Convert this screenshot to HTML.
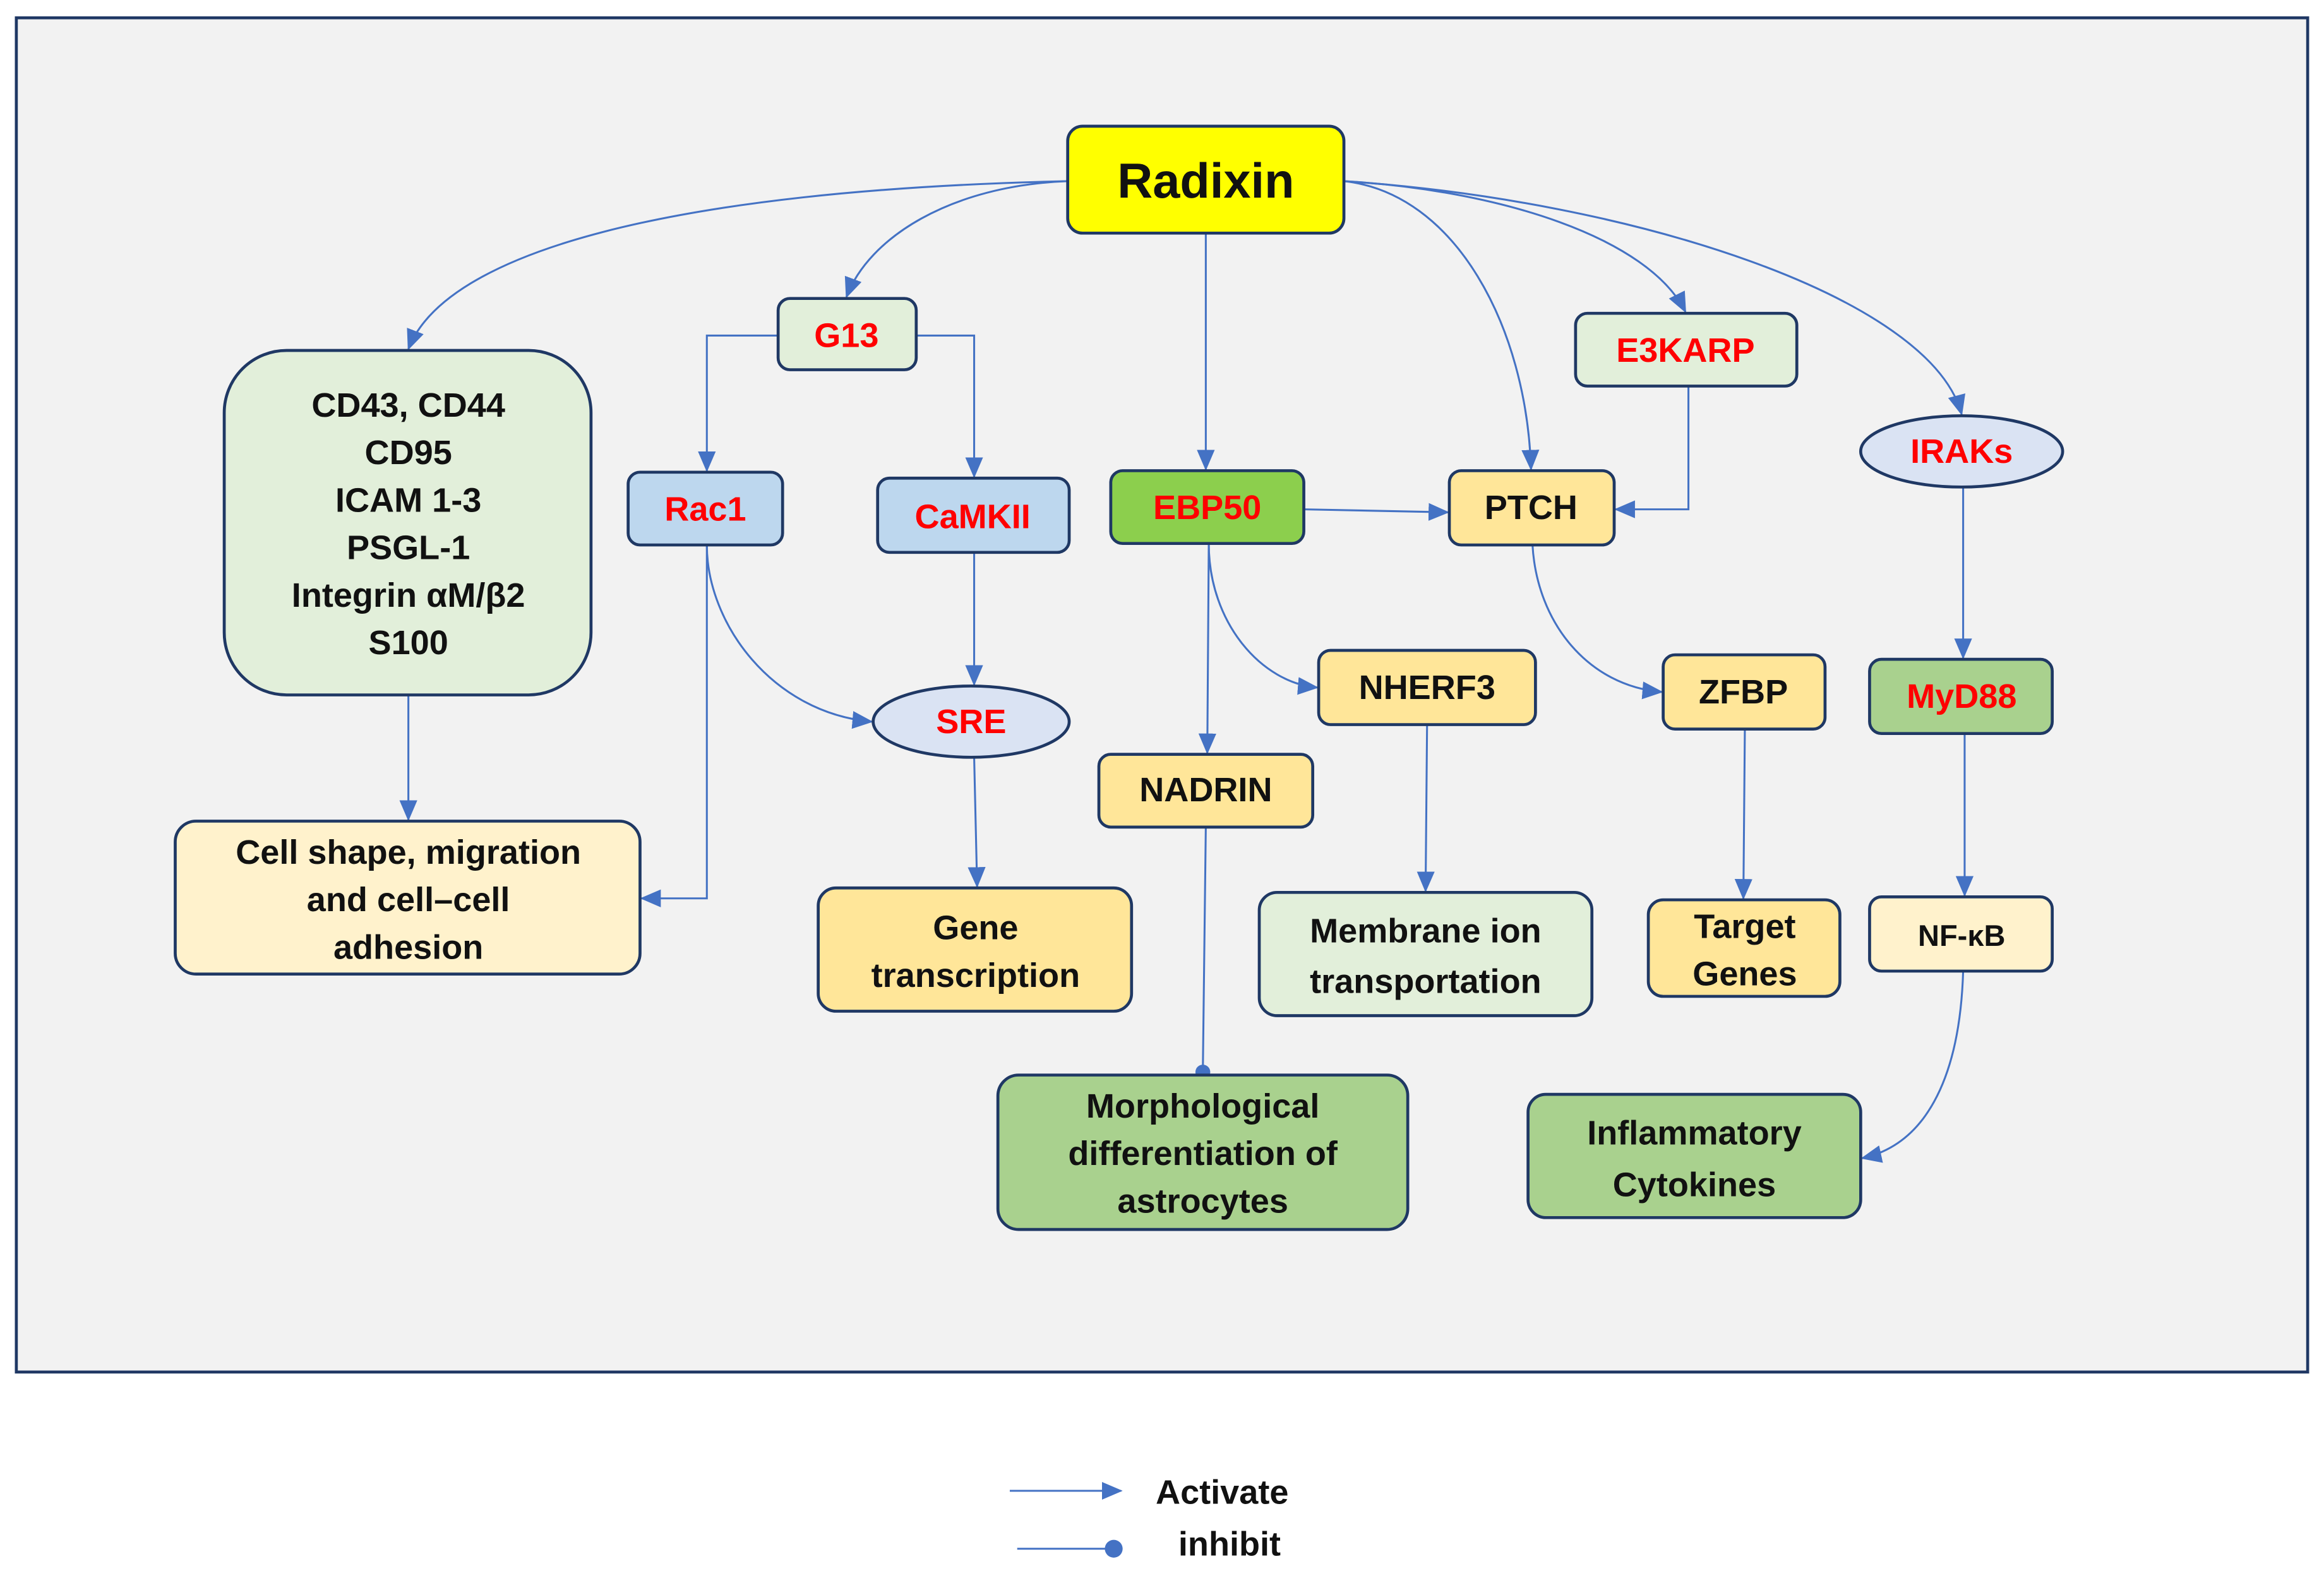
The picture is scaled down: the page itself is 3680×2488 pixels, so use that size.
<!DOCTYPE html>
<html><head><meta charset="utf-8"><style>
html,body{margin:0;padding:0;background:#fff;}
svg{display:block;}
text{font-family:"Liberation Sans",Arial,sans-serif;font-weight:bold;text-anchor:middle;dominant-baseline:central;}
</style></head><body>
<svg width="3680" height="2488" viewBox="0 0 1565 1058" preserveAspectRatio="none" xmlns="http://www.w3.org/2000/svg">
<defs>
<marker id="a" markerUnits="userSpaceOnUse" markerWidth="14" markerHeight="12" refX="13" refY="6" orient="auto"><path d="M0,0 L14,6 L0,12 z" fill="#4472c4"/></marker>
</defs>
<rect x="11" y="12" width="1543" height="912" fill="#f2f2f2" stroke="#1f3864" stroke-width="2"/>
<g fill="none" stroke="#4472c4" stroke-width="1.3">
<path d="M719,122 C450,128 300,170 275,235" marker-end="url(#a)"/>
<path d="M719,122 C640,125 585,160 570,200" marker-end="url(#a)"/>
<path d="M812,157 L812,316" marker-end="url(#a)"/>
<path d="M905,122 C980,130 1028,220 1031,316" marker-end="url(#a)"/>
<path d="M905,122 C1010,128 1110,160 1135,210" marker-end="url(#a)"/>
<path d="M905,122 C1100,135 1300,200 1321,279" marker-end="url(#a)"/>
<path d="M524,226 L476,226 L476,317" marker-end="url(#a)"/>
<path d="M617,226 L656,226 L656,321" marker-end="url(#a)"/>
<path d="M656,372 L656,461" marker-end="url(#a)"/>
<path d="M476,367 C476,420 520,480 587,486" marker-end="url(#a)"/>
<path d="M476,367 L476,605 L432,605" marker-end="url(#a)"/>
<path d="M275,468 L275,552" marker-end="url(#a)"/>
<path d="M656,510 L658,597" marker-end="url(#a)"/>
<path d="M878,343 L975,345" marker-end="url(#a)"/>
<path d="M1137,260 L1137,343 L1088,343" marker-end="url(#a)"/>
<path d="M814,366 L813,507" marker-end="url(#a)"/>
<path d="M814,366 C814,420 850,460 887,463" marker-end="url(#a)"/>
<path d="M1032,367 C1035,420 1070,462 1119,466" marker-end="url(#a)"/>
<path d="M961,488 L960,600" marker-end="url(#a)"/>
<path d="M1175,491 L1174,605" marker-end="url(#a)"/>
<path d="M1322,328 L1322,443" marker-end="url(#a)"/>
<path d="M1323,494 L1323,603" marker-end="url(#a)"/>
<path d="M1322,654 C1320,720 1300,770 1254,780" marker-end="url(#a)"/>
<path d="M812,557 L810,722"/>
<path d="M680,1004 L755,1004" marker-end="url(#a)"/>
<path d="M685,1043 L750,1043"/>
</g>
<circle cx="810" cy="722" r="5" fill="#4472c4"/>
<circle cx="750" cy="1043" r="6" fill="#4472c4"/>
<g stroke="#1f3864" stroke-width="2">
<rect x="719" y="85" width="186" height="72" rx="10" fill="#ffff00"/>
<rect x="524" y="201" width="93" height="48" rx="8" fill="#e2efda"/>
<rect x="151" y="236" width="247" height="232" rx="42" fill="#e2efda"/>
<rect x="423" y="318" width="104" height="49" rx="8" fill="#bdd7ee"/>
<rect x="591" y="322" width="129" height="50" rx="8" fill="#bdd7ee"/>
<rect x="748" y="317" width="130" height="49" rx="8" fill="#8ccf4d"/>
<rect x="976" y="317" width="111" height="50" rx="8" fill="#ffe699"/>
<rect x="1061" y="211" width="149" height="49" rx="8" fill="#e2efda"/>
<ellipse cx="1321" cy="304" rx="68" ry="24" fill="#dae3f3"/>
<ellipse cx="654" cy="486" rx="66" ry="24" fill="#dae3f3"/>
<rect x="888" y="438" width="146" height="50" rx="8" fill="#ffe699"/>
<rect x="1120" y="441" width="109" height="50" rx="8" fill="#ffe699"/>
<rect x="1259" y="444" width="123" height="50" rx="8" fill="#a9d18e"/>
<rect x="740" y="508" width="144" height="49" rx="8" fill="#ffe699"/>
<rect x="118" y="553" width="313" height="103" rx="14" fill="#fff2cc"/>
<rect x="551" y="598" width="211" height="83" rx="12" fill="#ffe699"/>
<rect x="848" y="601" width="224" height="83" rx="12" fill="#e2efda"/>
<rect x="1110" y="606" width="129" height="65" rx="10" fill="#ffe699"/>
<rect x="1259" y="604" width="123" height="50" rx="8" fill="#fff2cc"/>
<rect x="672" y="724" width="276" height="104" rx="14" fill="#a9d18e"/>
<rect x="1029" y="737" width="224" height="83" rx="12" fill="#a9d18e"/>
</g>
<g font-size="23" fill="#111">
<text x="812" y="122" font-size="33">Radixin</text>
<text x="570" y="226" fill="#ff0000">G13</text>
<text x="275" y="273">CD43, CD44</text>
<text x="275" y="305">CD95</text>
<text x="275" y="337">ICAM 1-3</text>
<text x="275" y="369">PSGL-1</text>
<text x="275" y="401">Integrin αM/β2</text>
<text x="275" y="433">S100</text>
<text x="475" y="343" fill="#ff0000">Rac1</text>
<text x="655" y="348" fill="#ff0000">CaMKII</text>
<text x="813" y="342" fill="#ff0000">EBP50</text>
<text x="1031" y="342">PTCH</text>
<text x="1135" y="236" fill="#ff0000">E3KARP</text>
<text x="1321" y="304" fill="#ff0000">IRAKs</text>
<text x="654" y="486" fill="#ff0000">SRE</text>
<text x="961" y="463">NHERF3</text>
<text x="1174" y="466">ZFBP</text>
<text x="1321" y="469" fill="#ff0000" font-weight="normal">MyD88</text>
<text x="812" y="532">NADRIN</text>
<text x="275" y="574">Cell shape, migration</text>
<text x="275" y="606">and cell–cell</text>
<text x="275" y="638">adhesion</text>
<text x="657" y="625">Gene</text>
<text x="657" y="657">transcription</text>
<text x="960" y="627">Membrane ion</text>
<text x="960" y="661">transportation</text>
<text x="1175" y="624">Target</text>
<text x="1175" y="656">Genes</text>
<text x="1321" y="630" font-size="20">NF-κB</text>
<text x="810" y="745">Morphological</text>
<text x="810" y="777">differentiation of</text>
<text x="810" y="809">astrocytes</text>
<text x="1141" y="763">Inflammatory</text>
<text x="1141" y="798">Cytokines</text>
<text x="823" y="1005">Activate</text>
<text x="828" y="1040">inhibit</text>
</g>
</svg>
</body></html>
